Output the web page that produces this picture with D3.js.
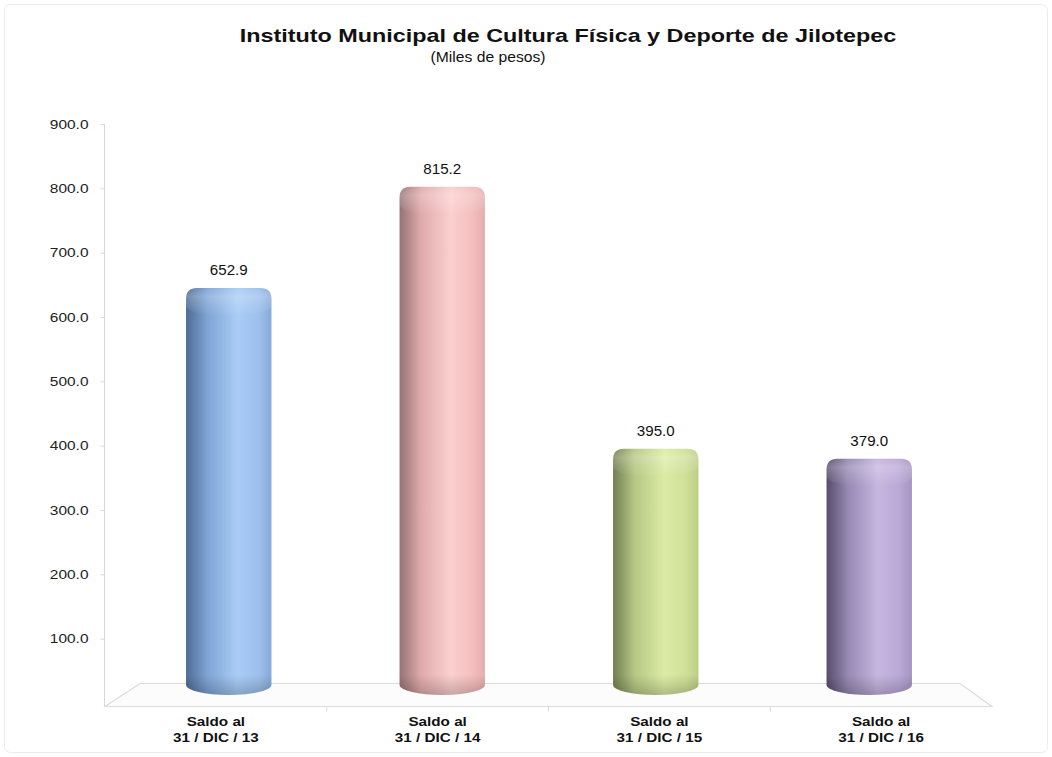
<!DOCTYPE html>
<html>
<head>
<meta charset="utf-8">
<script src="https://cdn.jsdelivr.net/npm/d3@7"></script>
<style>
  html, body { margin: 0; padding: 0; background: #ffffff; }
  svg { display: block; font-family: Arial, "Liberation Sans", Helvetica, sans-serif; }
</style>
</head>
<body>
<svg id="chart" width="1052" height="757"></svg>
<script>
// ---- data ----
const categories = ["Saldo al|31 / DIC / 13", "Saldo al|31 / DIC / 14", "Saldo al|31 / DIC / 15", "Saldo al|31 / DIC / 16"];
const values = [652.9, 815.2, 395.0, 379.0];
const yTicks = [100, 200, 300, 400, 500, 600, 700, 800, 900];
const barColors = [
  ["#4f6b93", "#7fa4d6", "#a9cdf6", "#9dc0ec", "#86a9d8"],
  ["#967274", "#e0aaab", "#fccfcf", "#f4bebe", "#e6adae"],
  ["#737f52", "#b5c784", "#dceca6", "#cfe098", "#bccd84"],
  ["#574d6b", "#9689b3", "#c6b6e0", "#baa8d6", "#a595c2"]
];
const title = "Instituto Municipal de Cultura Física y Deporte de Jilotepec";
const subtitle = "(Miles de pesos)";

const svg = d3.select("#chart");
const W = 1052, H = 757;

// outer frame
svg.append("rect").attr("x", 4.5).attr("y", 4.5).attr("width", W - 9).attr("height", H - 9)
  .attr("rx", 6).attr("fill", "#fff").attr("stroke", "#ececec");

// titles (glyphs widened as in the reference)
svg.append("text").attr("transform", "translate(568,42) scale(1.23,1)").attr("text-anchor", "middle")
  .attr("font-size", 19).attr("font-weight", "bold").attr("fill", "#111").text(title);
svg.append("text").attr("transform", "translate(488,62) scale(1.12,1)").attr("text-anchor", "middle")
  .attr("font-size", 14).attr("fill", "#111").text(subtitle);

// scales
const yFront = d3.scaleLinear().domain([0, 900]).range([703, 124]);
const yBar = d3.scaleLinear().domain([0, 900]).range([695, 134]);
const xFront = d3.scaleBand().domain(categories).range([105, 992]);
const xBar = d3.scaleBand().domain(categories).range([122, 976]).paddingInner(0.6).paddingOuter(0.3);

// floor (perspective)
const floor = [[105, 706.5], [992, 706.5], [960, 683.5], [140, 683.5]];
svg.append("path").attr("d", d3.line()(floor) + "Z")
  .attr("fill", "#fcfcfc").attr("stroke", "#dcdcdc").attr("stroke-width", 1.2);

// y axis
const yAxis = d3.axisLeft(yFront).tickValues(yTicks).tickSize(4).tickFormat(d3.format(".1f"));
const gy = svg.append("g").attr("transform", "translate(104.5,0)").call(yAxis);
gy.select(".domain").attr("stroke", "#d8d8d8").attr("d", "M0," + yFront(900) + "V706");
gy.selectAll(".tick line").attr("stroke", "#d8d8d8");
gy.selectAll(".tick text").attr("font-size", 13).attr("fill", "#222").attr("x", 0)
  .attr("transform", "translate(-16,0) scale(1.19,1)")
  .attr("font-family", "Arial, 'Liberation Sans', sans-serif");

// x axis ticks on floor front edge
const gx = svg.append("g").attr("transform", "translate(0,706.5)");
gx.selectAll("line.sep").data(categories.slice(1)).enter().append("line")
  .attr("x1", d => xFront(d)).attr("x2", d => xFront(d)).attr("y1", 0).attr("y2", 5)
  .attr("stroke", "#d8d8d8");
const xl = gx.selectAll("text.cat").data(categories).enter().append("text")
  .attr("class", "cat").attr("text-anchor", "middle")
  .attr("transform", d => `translate(${xFront(d) + xFront.bandwidth() / 2},0) scale(1.22,1)`)
  .attr("font-size", 12.5).attr("font-weight", "bold").attr("fill", "#111");
xl.append("tspan").attr("x", 0).attr("y", 20).text(d => d.split("|")[0]);
xl.append("tspan").attr("x", 0).attr("y", 35.5).text(d => d.split("|")[1]);

// gradients
const defs = svg.append("defs");
barColors.forEach((c, i) => {
  const g = defs.append("linearGradient").attr("id", "g" + i).attr("x1", 0).attr("x2", 1).attr("y1", 0).attr("y2", 0);
  [[0, c[0]], [0.25, c[1]], [0.6, c[2]], [0.85, c[3]], [1, c[4]]].forEach(s =>
    g.append("stop").attr("offset", s[0]).attr("stop-color", s[1]));
});
const capG = defs.append("linearGradient").attr("id", "cap").attr("x1", 0).attr("x2", 0).attr("y1", 0).attr("y2", 1);
capG.append("stop").attr("offset", 0).attr("stop-color", "#fff").attr("stop-opacity", 0.05);
capG.append("stop").attr("offset", 0.3).attr("stop-color", "#fff").attr("stop-opacity", 0.22);
capG.append("stop").attr("offset", 1).attr("stop-color", "#fff").attr("stop-opacity", 0);
const botG = defs.append("linearGradient").attr("id", "bot").attr("x1", 0).attr("x2", 0).attr("y1", 0).attr("y2", 1);
botG.append("stop").attr("offset", 0).attr("stop-color", "#000").attr("stop-opacity", 0);
botG.append("stop").attr("offset", 1).attr("stop-color", "#000").attr("stop-opacity", 0.2);

// cylinders
const rx = 11, ryT = 11, ryB = 10;
function cyl(x0, w, yTop, yBot) {
  const x1 = x0 + w;
  return `M${x0},${yBot - ryB} L${x0},${yTop + ryT} Q${x0},${yTop} ${x0 + rx},${yTop} L${x1 - rx},${yTop} Q${x1},${yTop} ${x1},${yTop + ryT} L${x1},${yBot - ryB} A${w / 2},${ryB} 0 0 1 ${x0},${yBot - ryB} Z`;
}
const bars = svg.append("g").selectAll("g").data(values).enter().append("g");
bars.append("path").attr("d", (d, i) => cyl(xBar(categories[i]), xBar.bandwidth(), yBar(d), yBar(0)))
  .attr("fill", (d, i) => `url(#g${i})`);
bars.append("path").attr("d", (d, i) => {
  const x0 = xBar(categories[i]), w = xBar.bandwidth(), t = yBar(d);
  return cyl(x0, w, t, t + 18 + ryB);
}).attr("fill", "url(#cap)");
bars.append("path").attr("d", (d, i) => {
  const x0 = xBar(categories[i]), w = xBar.bandwidth(), b = yBar(0);
  return `M${x0},${b - 20} L${x0},${b - ryB} A${w / 2},${ryB} 0 0 0 ${x0 + w},${b - ryB} L${x0 + w},${b - 20} Z`;
}).attr("fill", "url(#bot)");

// value labels
svg.append("g").selectAll("text").data(values).enter().append("text")
  .attr("transform", (d, i) => `translate(${xBar(categories[i]) + xBar.bandwidth() / 2},${yBar(d) - 13}) scale(1.08,1)`)
  .attr("text-anchor", "middle")
  .attr("font-size", 14).attr("fill", "#111").text(d => d3.format(".1f")(d));
</script>
</body>
</html>
